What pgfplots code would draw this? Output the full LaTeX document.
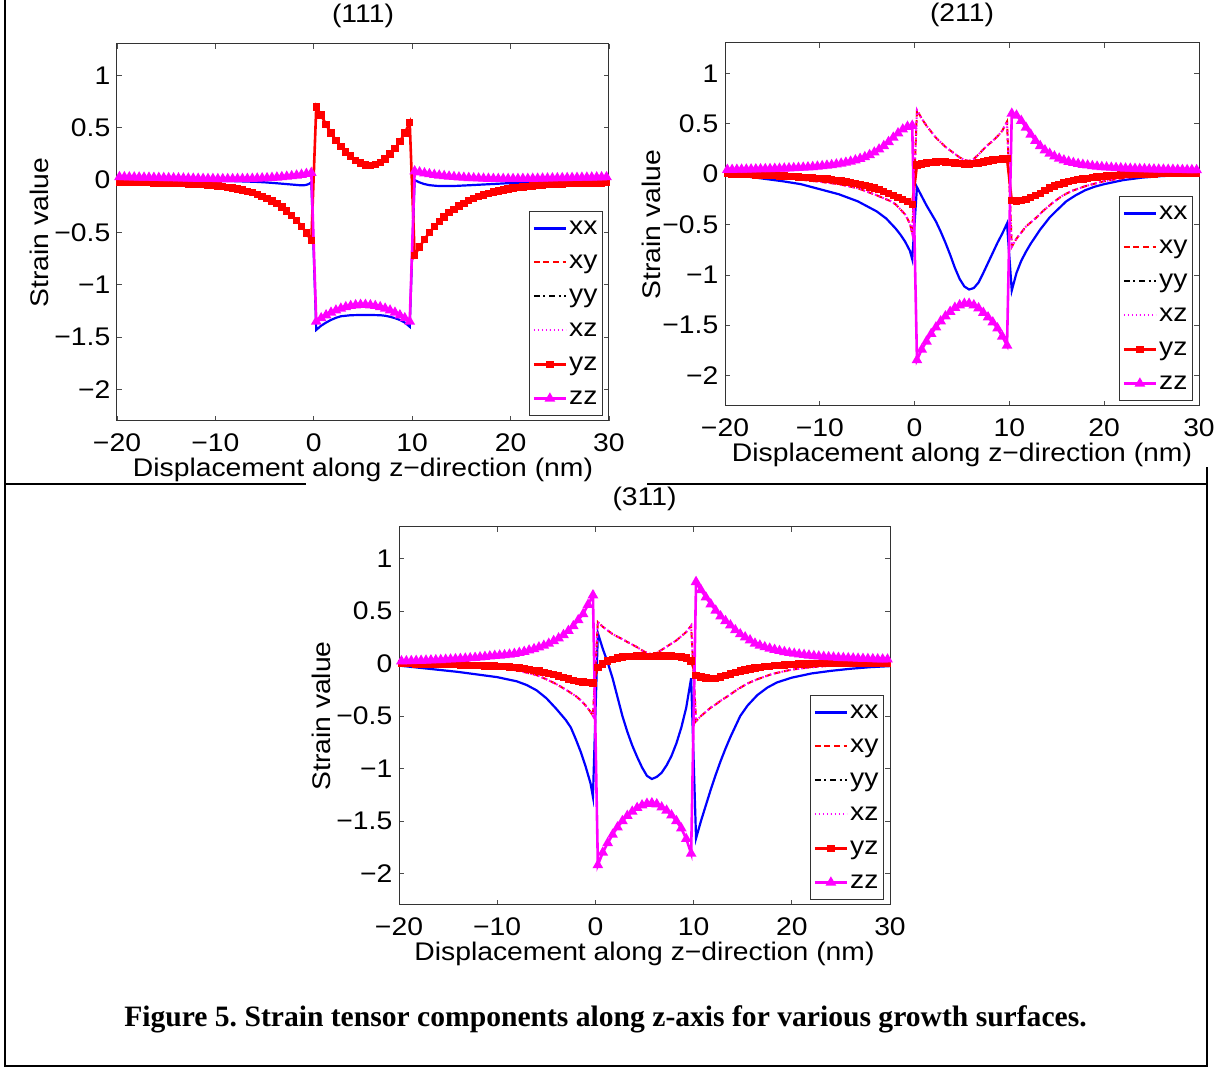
\documentclass[border=0pt]{standalone}
\usepackage{fontspec}
\setmainfont{Liberation Sans}[FakeStretch=1.11]
\newfontfamily\capfont{Liberation Serif}
\usepackage{pgfplots}
\usepackage{pgfplotstable}
\pgfplotsset{compat=1.18}
\definecolor{mblue}{rgb}{0,0,1}
\definecolor{mred}{rgb}{1,0,0}
\definecolor{mmag}{rgb}{1,0,1}

% marked series (yz, zz) on a 0.5 nm grid
\pgfplotstableread{
x yz zz
-19.75 -0.022 0.030
-19.25 -0.022 0.029
-18.75 -0.023 0.028
-18.25 -0.023 0.027
-17.75 -0.024 0.026
-17.25 -0.024 0.025
-16.75 -0.025 0.024
-16.25 -0.026 0.023
-15.75 -0.027 0.022
-15.25 -0.028 0.021
-14.75 -0.029 0.020
-14.25 -0.030 0.019
-13.75 -0.032 0.018
-13.25 -0.034 0.017
-12.75 -0.036 0.016
-12.25 -0.038 0.015
-11.75 -0.041 0.014
-11.25 -0.044 0.013
-10.75 -0.048 0.012
-10.25 -0.052 0.012
-9.75 -0.057 0.011
-9.25 -0.063 0.011
-8.75 -0.069 0.011
-8.25 -0.077 0.011
-7.75 -0.086 0.012
-7.25 -0.096 0.012
-6.75 -0.107 0.013
-6.25 -0.121 0.014
-5.75 -0.136 0.016
-5.25 -0.154 0.018
-4.75 -0.174 0.020
-4.25 -0.198 0.023
-3.75 -0.226 0.026
-3.25 -0.257 0.030
-2.75 -0.293 0.034
-2.25 -0.335 0.039
-1.75 -0.384 0.045
-1.25 -0.440 0.052
-0.75 -0.504 0.060
-0.25 -0.579 0.070
0.25 0.700 -1.350
0.75 0.620 -1.318
1.25 0.530 -1.290
1.75 0.450 -1.265
2.25 0.380 -1.244
2.75 0.320 -1.226
3.25 0.270 -1.212
3.75 0.230 -1.201
4.25 0.190 -1.194
4.75 0.165 -1.190
5.25 0.145 -1.190
5.75 0.140 -1.194
6.25 0.150 -1.201
6.75 0.170 -1.212
7.25 0.200 -1.226
7.75 0.250 -1.244
8.25 0.300 -1.265
8.75 0.370 -1.290
9.25 0.450 -1.318
9.75 0.550 -1.350
10.25 -0.720 0.085
10.75 -0.638 0.075
11.25 -0.565 0.066
11.75 -0.501 0.058
12.25 -0.445 0.051
12.75 -0.395 0.045
13.25 -0.351 0.040
13.75 -0.312 0.035
14.25 -0.278 0.031
14.75 -0.247 0.027
15.25 -0.221 0.024
15.75 -0.197 0.021
16.25 -0.176 0.019
16.75 -0.158 0.017
17.25 -0.142 0.015
17.75 -0.127 0.014
18.25 -0.115 0.013
18.75 -0.104 0.012
19.25 -0.094 0.012
19.75 -0.085 0.012
20.25 -0.077 0.012
20.75 -0.071 0.012
21.25 -0.065 0.013
21.75 -0.059 0.013
22.25 -0.055 0.014
22.75 -0.051 0.015
23.25 -0.047 0.016
23.75 -0.044 0.017
24.25 -0.041 0.018
24.75 -0.039 0.019
25.25 -0.036 0.020
25.75 -0.035 0.021
26.25 -0.033 0.022
26.75 -0.031 0.023
27.25 -0.030 0.024
27.75 -0.029 0.025
28.25 -0.028 0.026
28.75 -0.027 0.027
29.25 -0.026 0.028
29.75 -0.025 0.029
}\tabA

\pgfplotstableread{
x yz zz
-19.75 0.004 0.043
-19.25 0.002 0.043
-18.75 0.000 0.044
-18.25 -0.002 0.045
-17.75 -0.004 0.046
-17.25 -0.006 0.047
-16.75 -0.008 0.048
-16.25 -0.010 0.049
-15.75 -0.012 0.050
-15.25 -0.014 0.051
-14.75 -0.016 0.053
-14.25 -0.018 0.054
-13.75 -0.020 0.056
-13.25 -0.023 0.058
-12.75 -0.026 0.060
-12.25 -0.029 0.062
-11.75 -0.032 0.065
-11.25 -0.035 0.068
-10.75 -0.038 0.071
-10.25 -0.041 0.075
-9.75 -0.045 0.080
-9.25 -0.050 0.085
-8.75 -0.056 0.090
-8.25 -0.062 0.097
-7.75 -0.069 0.105
-7.25 -0.077 0.114
-6.75 -0.086 0.124
-6.25 -0.096 0.137
-5.75 -0.106 0.152
-5.25 -0.116 0.169
-4.75 -0.127 0.190
-4.25 -0.140 0.215
-3.75 -0.155 0.245
-3.25 -0.172 0.279
-2.75 -0.192 0.319
-2.25 -0.212 0.362
-1.75 -0.232 0.405
-1.25 -0.252 0.443
-0.75 -0.272 0.470
-0.25 -0.300 0.480
0.25 0.089 -1.845
0.75 0.100 -1.740
1.25 0.110 -1.660
1.75 0.115 -1.585
2.25 0.120 -1.520
2.75 0.122 -1.460
3.25 0.120 -1.410
3.75 0.117 -1.365
4.25 0.110 -1.325
4.75 0.104 -1.300
5.25 0.100 -1.285
5.75 0.100 -1.285
6.25 0.104 -1.300
6.75 0.110 -1.330
7.25 0.120 -1.375
7.75 0.130 -1.420
8.25 0.138 -1.470
8.75 0.145 -1.530
9.25 0.150 -1.610
9.75 0.152 -1.700
10.25 -0.265 0.600
10.75 -0.268 0.581
11.25 -0.262 0.529
11.75 -0.250 0.461
12.25 -0.233 0.393
12.75 -0.213 0.331
13.25 -0.190 0.279
13.75 -0.163 0.237
14.25 -0.140 0.203
14.75 -0.119 0.176
15.25 -0.102 0.155
15.75 -0.087 0.137
16.25 -0.075 0.123
16.75 -0.065 0.111
17.25 -0.056 0.101
17.75 -0.048 0.093
18.25 -0.041 0.086
18.75 -0.035 0.080
19.25 -0.029 0.075
19.75 -0.024 0.071
20.25 -0.020 0.067
20.75 -0.016 0.064
21.25 -0.013 0.061
21.75 -0.010 0.059
22.25 -0.007 0.056
22.75 -0.005 0.054
23.25 -0.003 0.053
23.75 -0.001 0.051
24.25 0.000 0.050
24.75 0.001 0.048
25.25 0.002 0.047
25.75 0.003 0.046
26.25 0.003 0.045
26.75 0.004 0.044
27.25 0.004 0.044
27.75 0.005 0.043
28.25 0.005 0.042
28.75 0.005 0.041
29.25 0.005 0.041
29.75 0.005 0.040
}\tabB

\pgfplotstableread{
x yz zz
-19.75 0.000 0.022
-19.25 -0.001 0.023
-18.75 -0.002 0.024
-18.25 -0.003 0.026
-17.75 -0.004 0.027
-17.25 -0.005 0.029
-16.75 -0.006 0.031
-16.25 -0.007 0.032
-15.75 -0.008 0.034
-15.25 -0.009 0.037
-14.75 -0.010 0.039
-14.25 -0.012 0.042
-13.75 -0.014 0.045
-13.25 -0.016 0.048
-12.75 -0.018 0.051
-12.25 -0.020 0.055
-11.75 -0.022 0.060
-11.25 -0.023 0.064
-10.75 -0.024 0.069
-10.25 -0.025 0.074
-9.75 -0.027 0.077
-9.25 -0.030 0.080
-8.75 -0.034 0.086
-8.25 -0.038 0.093
-7.75 -0.043 0.102
-7.25 -0.049 0.112
-6.75 -0.056 0.125
-6.25 -0.064 0.138
-5.75 -0.073 0.154
-5.25 -0.083 0.170
-4.75 -0.094 0.189
-4.25 -0.106 0.215
-3.75 -0.119 0.240
-3.25 -0.133 0.272
-2.75 -0.147 0.311
-2.25 -0.160 0.356
-1.75 -0.170 0.413
-1.25 -0.177 0.471
-0.75 -0.182 0.560
-0.25 -0.185 0.650
0.25 -0.040 -1.920
0.75 -0.005 -1.800
1.25 0.022 -1.710
1.75 0.040 -1.630
2.25 0.053 -1.560
2.75 0.062 -1.500
3.25 0.067 -1.450
3.75 0.069 -1.410
4.25 0.070 -1.375
4.75 0.070 -1.350
5.25 0.069 -1.335
5.75 0.069 -1.330
6.25 0.070 -1.340
6.75 0.072 -1.370
7.25 0.073 -1.400
7.75 0.072 -1.445
8.25 0.069 -1.500
8.75 0.062 -1.570
9.25 0.052 -1.670
9.75 0.025 -1.810
10.25 -0.115 0.777
10.75 -0.130 0.700
11.25 -0.140 0.630
11.75 -0.145 0.565
12.25 -0.142 0.505
12.75 -0.130 0.450
13.25 -0.115 0.405
13.75 -0.100 0.365
14.25 -0.086 0.318
14.75 -0.073 0.280
15.25 -0.062 0.250
15.75 -0.052 0.222
16.25 -0.044 0.190
16.75 -0.037 0.172
17.25 -0.031 0.156
17.75 -0.026 0.143
18.25 -0.021 0.131
18.75 -0.017 0.120
19.25 -0.013 0.110
19.75 -0.010 0.101
20.25 -0.008 0.094
20.75 -0.006 0.088
21.25 -0.004 0.082
21.75 -0.003 0.077
22.25 -0.002 0.072
22.75 -0.001 0.068
23.25 0.000 0.064
23.75 0.000 0.061
24.25 0.000 0.058
24.75 0.000 0.055
25.25 0.000 0.053
25.75 0.000 0.051
26.25 0.000 0.049
26.75 0.000 0.047
27.25 0.000 0.045
27.75 0.000 0.044
28.25 0.000 0.042
28.75 0.000 0.041
29.25 0.000 0.040
29.75 0.000 0.039
}\tabC

% xx series
\pgfplotstableread{
x y
-20 0.000
-14 -0.002
-10 -0.006
-8 -0.010
-6 -0.016
-5 -0.021
-4 -0.028
-3 -0.036
-2 -0.044
-1.5 -0.048
-1 -0.049
-0.75 -0.045
-0.5 -0.037
-0.25 -0.020
0.25 -1.430
0.75 -1.390
1.25 -1.360
1.75 -1.335
2.25 -1.315
2.75 -1.300
3.25 -1.295
3.75 -1.290
4.75 -1.288
5.75 -1.288
6.75 -1.290
7.25 -1.295
7.75 -1.305
8.25 -1.318
8.75 -1.335
9.25 -1.360
9.75 -1.400
10.25 0.000
10.75 -0.022
11.25 -0.038
11.75 -0.048
12.5 -0.055
13.5 -0.057
14.5 -0.055
16 -0.048
18 -0.038
20 -0.028
22 -0.020
25 -0.012
30 -0.005
}\xxA

\pgfplotstableread{
x y
-20 -0.005
-18 -0.020
-16 -0.045
-14 -0.070
-12 -0.100
-10 -0.150
-8 -0.200
-6 -0.270
-5 -0.320
-4 -0.370
-3 -0.440
-2.5 -0.490
-2 -0.540
-1.5 -0.600
-1 -0.670
-0.5 -0.760
-0.25 -0.845
0.25 -0.130
0.75 -0.220
1.25 -0.310
1.75 -0.390
2.25 -0.470
2.75 -0.570
3.25 -0.680
3.75 -0.800
4.25 -0.930
4.75 -1.040
5.25 -1.115
5.75 -1.145
6.25 -1.130
6.75 -1.075
7.25 -0.980
7.75 -0.880
8.25 -0.780
8.75 -0.680
9.25 -0.590
9.75 -0.490
10.25 -1.155
10.75 -0.980
11.25 -0.860
11.75 -0.770
12.25 -0.690
12.75 -0.620
13.25 -0.550
13.75 -0.490
14.25 -0.430
15 -0.360
16 -0.270
17 -0.210
18 -0.160
19 -0.125
20 -0.100
22 -0.060
24 -0.035
26 -0.020
28 -0.012
30 -0.008
}\xxB

\pgfplotstableread{
x y
-20 -0.020
-18 -0.040
-16 -0.060
-14 -0.080
-12 -0.105
-10 -0.130
-8 -0.170
-7 -0.205
-6 -0.255
-5 -0.330
-4 -0.430
-3 -0.540
-2.5 -0.610
-2 -0.720
-1.5 -0.840
-1 -0.980
-0.5 -1.140
-0.25 -1.270
0.25 0.290
0.75 0.140
1.25 0.010
1.75 -0.140
2.25 -0.320
2.75 -0.500
3.25 -0.650
3.75 -0.780
4.25 -0.890
4.75 -0.990
5.25 -1.070
5.75 -1.100
6.25 -1.080
6.75 -1.040
7.25 -0.970
7.75 -0.880
8.25 -0.760
8.75 -0.610
9.25 -0.420
9.75 -0.140
10.25 -1.665
10.75 -1.500
11.25 -1.350
11.75 -1.200
12.25 -1.060
12.75 -0.930
13.25 -0.810
13.75 -0.700
14.25 -0.600
14.75 -0.500
15.5 -0.400
16.5 -0.300
17.5 -0.230
18.5 -0.180
20 -0.135
22 -0.095
24 -0.070
26 -0.050
28 -0.035
30 -0.025
}\xxC

% xy series (xz coincides with xy)
\pgfplotstableread{
x y
-20 0.000
-18 -0.010
-16 -0.020
-14 -0.035
-12 -0.055
-10 -0.076
-8 -0.100
-6 -0.140
-5 -0.175
-4 -0.210
-3 -0.250
-2.5 -0.270
-2 -0.300
-1.5 -0.350
-1 -0.400
-0.5 -0.490
-0.25 -0.590
0.25 0.635
0.75 0.550
1.25 0.480
1.75 0.420
2.25 0.360
2.75 0.315
3.25 0.270
3.75 0.235
4.25 0.200
4.75 0.165
5.25 0.140
5.75 0.130
6.25 0.150
6.75 0.195
7.25 0.245
7.75 0.290
8.25 0.330
8.75 0.375
9.25 0.430
9.75 0.520
10.25 -0.720
10.75 -0.640
11.25 -0.580
11.75 -0.520
12.25 -0.480
12.75 -0.440
13.5 -0.370
14.5 -0.290
15.5 -0.220
16.5 -0.170
18 -0.120
20 -0.070
22 -0.040
24 -0.020
26 -0.010
28 -0.005
30 0.000
}\xyB

\pgfplotstableread{
x y
-20 0.000
-18 -0.004
-16 -0.010
-14 -0.018
-12 -0.028
-10 -0.040
-8 -0.065
-6 -0.110
-5 -0.150
-4 -0.195
-3 -0.250
-2.5 -0.280
-2 -0.310
-1.5 -0.350
-1 -0.400
-0.5 -0.460
-0.25 -0.500
0.25 0.395
0.75 0.350
1.25 0.315
1.75 0.280
2.25 0.255
2.75 0.232
3.25 0.205
3.75 0.180
4.25 0.155
4.75 0.125
5.25 0.100
5.75 0.088
6.25 0.100
6.75 0.130
7.25 0.160
7.75 0.190
8.25 0.220
8.75 0.260
9.25 0.300
9.75 0.360
10.25 -0.550
10.75 -0.500
11.25 -0.460
11.75 -0.420
12.25 -0.390
12.75 -0.355
13.5 -0.310
14.5 -0.245
15.5 -0.190
16.5 -0.150
18 -0.100
20 -0.058
22 -0.035
24 -0.020
26 -0.010
28 -0.004
30 0.000
}\xyC

\pgfplotsset{
  strainax/.style={
    scale only axis,
    xmin=-20, xmax=30, ymin=-2.3, ymax=1.3,
    xtick={-20,-10,0,10,20,30},
    xticklabels={−20,−10,0,10,20,30},
    ytick={-2,-1.5,-1,-0.5,0,0.5,1},
    yticklabels={−2,−1.5,−1,−0.5,0,0.5,1},
    tick align=inside,
    major tick length=2.5pt,
    tick style={black!70, line width=0.4pt},
    axis line style={black!80, line width=0.5pt},
    xticklabel style={anchor=base, yshift=-15.35pt, inner sep=0pt},
    yticklabel style={anchor=east, xshift=-3.15pt, inner sep=0pt},
    xlabel={Displacement along z−direction (nm)},
    ylabel={Strain value},
    xlabel style={at={(axis description cs:0.5,0)}, anchor=base, yshift=-28pt, inner sep=0pt},
    title style={at={(axis description cs:0.5,1)}, anchor=base, yshift=4.5pt, inner sep=0pt},
    legend style={at={(axis description cs:1,0)}, anchor=south east,
      xshift=-3pt, yshift=2.5pt, draw=black!80, line width=0.5pt, fill=white,
      inner xsep=1.5pt, inner ysep=0pt, row sep=0pt,
      nodes={inner xsep=1pt, inner ysep=2.5pt, text height=9pt, text depth=3pt}},
    legend cell align=left,
    legend image code/.code={\draw[mark repeat=2,mark phase=2,#1] plot coordinates {(0pt,0pt) (8pt,0pt) (16pt,0pt)};},
  },
  sxx/.style={mblue, line width=1.1pt},
  sxy/.style={mred, line width=1.0pt, dash pattern=on 3pt off 1.8pt},
  syy/.style={black, line width=1.0pt, dash pattern=on 3pt off 1.8pt on 1pt off 1.8pt},
  sxz/.style={mmag, line width=1.0pt, dash pattern=on 0.8pt off 1.2pt},
  syz/.style={mred, line width=1.3pt, mark=square*, mark size=1.2pt, mark options={solid, fill=mred}},
  szz/.style={mmag, line width=1.3pt, mark=triangle*, mark size=1.8pt, mark options={solid, fill=mmag}},
}

\begin{document}
\frenchspacing
\begin{tikzpicture}[x=0.5pt, y=0.5pt, font=\fontsize{12.75}{15}\selectfont]
\path[use as bounding box] (0,0) rectangle (1228,1069);

% frame
\draw[line width=1pt] (5,1069) -- (5,3) -- (1207,3) -- (1207,602);
\draw[line width=1pt] (5,585) -- (306,585);
\draw[line width=1pt] (647,585) -- (1207,585);

% (111)
\begin{axis}[strainax, at={(58.5pt,324pt)}, anchor=south west,
  width=246pt, height=188.5pt, title={(111)},
  ylabel style={at={(axis description cs:-0.1402,0.5)}, anchor=base, inner sep=0pt}]
\addlegendimage{sxx}
\addlegendimage{sxy}
\addlegendimage{syy}
\addlegendimage{sxz}
\addlegendimage{syz}
\addlegendimage{szz}
\addplot[sxx, forget plot] table[x=x, y=y] {\xxA};
\addplot[syz, forget plot] table[x=x, y=yz] {\tabA};
\addplot[szz, forget plot] table[x=x, y=zz] {\tabA};
\legend{xx,xy,yy,xz,yz,zz}
\end{axis}

% (211)
\begin{axis}[strainax, at={(362.5pt,331.5pt)}, anchor=south west,
  width=237pt, height=181.5pt, title={(211)},
  ylabel style={at={(axis description cs:-0.137,0.5)}, anchor=base, inner sep=0pt}]
\addlegendimage{sxx}
\addlegendimage{sxy}
\addlegendimage{syy}
\addlegendimage{sxz}
\addlegendimage{syz}
\addlegendimage{szz}
\addplot[sxx, forget plot] table[x=x, y=y] {\xxB};
\addplot[sxy, forget plot] table[x=x, y=y] {\xyB};
\addplot[sxz, forget plot] table[x=x, y=y] {\xyB};
\addplot[syz, forget plot] table[x=x, y=yz] {\tabB};
\addplot[szz, forget plot] table[x=x, y=zz] {\tabB};
\legend{xx,xy,yy,xz,yz,zz}
\end{axis}

% (311)
\begin{axis}[strainax, at={(199.5pt,82pt)}, anchor=south west,
  width=245.5pt, height=189pt, title={(311)},
  ylabel style={at={(axis description cs:-0.1405,0.5)}, anchor=base, inner sep=0pt}]
\addlegendimage{sxx}
\addlegendimage{sxy}
\addlegendimage{syy}
\addlegendimage{sxz}
\addlegendimage{syz}
\addlegendimage{szz}
\addplot[sxx, forget plot] table[x=x, y=y] {\xxC};
\addplot[sxy, forget plot] table[x=x, y=y] {\xyC};
\addplot[sxz, forget plot] table[x=x, y=y] {\xyC};
\addplot[syz, forget plot] table[x=x, y=yz] {\tabC};
\addplot[szz, forget plot] table[x=x, y=zz] {\tabC};
\legend{xx,xy,yy,xz,yz,zz}
\end{axis}

\node[anchor=base, inner sep=0pt, font=\capfont\bfseries\fontsize{14.8}{18}\selectfont] at (605.5,42.3)
  {Figure 5. Strain tensor components along z-axis for various growth surfaces.};
\end{tikzpicture}
\end{document}
